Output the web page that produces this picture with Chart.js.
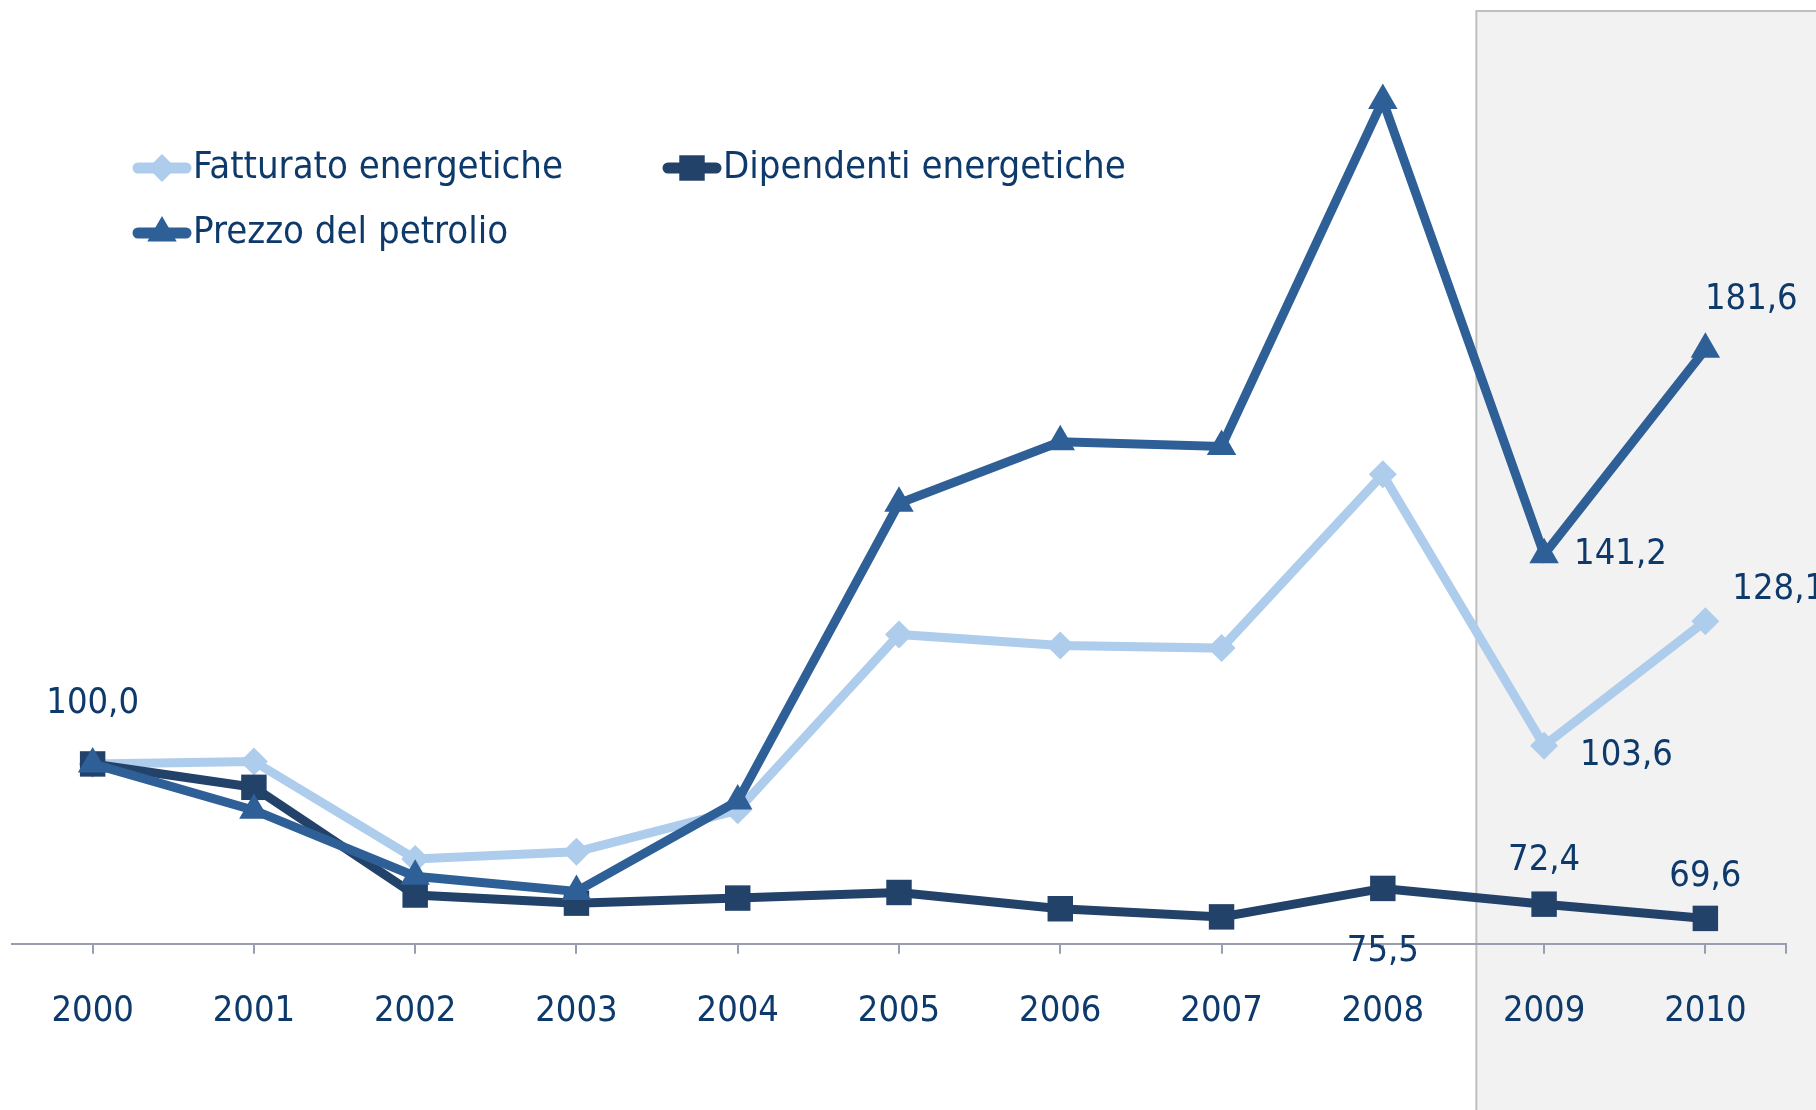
<!DOCTYPE html>
<html><head><meta charset="utf-8">
<script src="https://cdn.jsdelivr.net/npm/chart.js@4.4.0/dist/chart.umd.min.js"></script>
<style>html,body{margin:0;padding:0;background:#fff}#wrap{width:1816px;height:1110px;position:relative}</style>
</head><body><div id="wrap"><canvas id="c" width="1816" height="1110"></canvas></div>
<script>
// ---- data ----
const years = ['2000','2001','2002','2003','2004','2005','2006','2007','2008','2009','2010'];
const seriesNames = ['Fatturato energetiche','Dipendenti energetiche','Prezzo del petrolio'];
const fatturato = [100.0, 100.5, 81.3, 82.7, 90.9, 125.5, 123.3, 122.8, 157.0, 103.6, 128.1];
const dipendenti = [100.0, 95.4, 74.2, 72.6, 73.6, 74.7, 71.5, 69.9, 75.5, 72.4, 69.6];
const prezzo = [100.0, 90.9, 77.9, 74.9, 92.7, 151.3, 163.4, 162.5, 230.6, 141.2, 181.6];
// which points carry a value label: [datasetIndex, pointIndex]
const labelledPoints = [[2,0],[0,9],[0,10],[1,8],[1,9],[1,10],[2,9],[2,10]];

// ---- styles ----
const TEXT = '#0E3A6B';
const FONT = 'DejaVu Sans Condensed';
const colors = ['#AECDEC', '#22426A', '#2E5F96'];
const labelPlacement = {
  '2,0': {dx:0, dy:-60, align:'center'},
  '0,9': {dx:36, dy:10, align:'left'},
  '0,10': {dx:27, dy:-32, align:'left'},
  '1,8': {dx:0, dy:63, align:'center'},
  '1,9': {dx:0, dy:-44, align:'center'},
  '1,10': {dx:0, dy:-42, align:'center'},
  '2,9': {dx:30, dy:0, align:'left'},
  '2,10': {dx:46, dy:-50, align:'center'}
};
const fmt = v => v.toFixed(1).replace('.', ',');

const shadePlugin = {
  id: 'shade',
  beforeDraw(chart) {
    const {ctx, chartArea} = chart;
    const xs = chart.scales.x;
    const x0 = xs.getPixelForValue(8) + 0.58 * (xs.getPixelForValue(9) - xs.getPixelForValue(8));
    const y0 = chartArea.top;
    ctx.save();
    ctx.fillStyle = '#F2F2F2';
    ctx.fillRect(x0, y0, chart.width - x0, chart.height - y0);
    ctx.strokeStyle = '#BFBFBF';
    ctx.lineWidth = 2;
    ctx.beginPath();
    ctx.moveTo(x0, chart.height);
    ctx.lineTo(x0, y0);
    ctx.lineTo(chart.width, y0);
    ctx.stroke();
    ctx.restore();
  },
  afterDraw(chart) {
    const {ctx, chartArea} = chart;
    ctx.save();
    ctx.strokeStyle = '#9A9DAF';
    ctx.lineWidth = 2;
    ctx.beginPath();
    ctx.moveTo(chartArea.right, chartArea.bottom);
    ctx.lineTo(chartArea.right, chartArea.bottom + 10);
    ctx.stroke();
    ctx.restore();
  }
};

const valueLabelPlugin = {
  id: 'valueLabels',
  afterDatasetsDraw(chart) {
    const ctx = chart.ctx;
    ctx.save();
    ctx.font = '36px "' + FONT + '"';
    ctx.fillStyle = TEXT;
    ctx.textBaseline = 'middle';
    labelledPoints.forEach(([d, i]) => {
      const pt = chart.getDatasetMeta(d).data[i];
      const p = labelPlacement[d + ',' + i];
      const v = chart.data.datasets[d].data[i];
      ctx.textAlign = p.align;
      ctx.fillText(fmt(v), pt.x + p.dx, pt.y + p.dy);
    });
    ctx.restore();
  }
};

const legendPos = [[133,168],[663,168],[133,233]];
const customLegend = {
  id: 'customLegend',
  afterDraw(chart) {
    const ctx = chart.ctx;
    ctx.save();
    chart.data.datasets.forEach((ds, k) => {
      const [x, y] = legendPos[k];
      ctx.strokeStyle = ds.borderColor;
      ctx.lineWidth = 11;
      ctx.lineCap = 'round';
      ctx.beginPath();
      ctx.moveTo(x + 5, y);
      ctx.lineTo(x + 53, y);
      ctx.stroke();
      ctx.fillStyle = ds.pointBackgroundColor;
      ctx.strokeStyle = ds.pointBackgroundColor;
      Chart.helpers.drawPoint(ctx, {pointStyle: ds.pointStyle, radius: ds.pointRadius, rotation: 0, borderWidth: 0}, x + 29, y);
      ctx.fillStyle = TEXT;
      ctx.font = '38px "' + FONT + '"';
      ctx.textBaseline = 'middle';
      ctx.textAlign = 'left';
      ctx.fillText(ds.label, x + 60, y);
    });
    ctx.restore();
  }
};

function makeDs(label, data, color, style, radius, order) {
  return {
    label, data,
    borderColor: color, backgroundColor: color,
    pointBackgroundColor: color, pointBorderColor: color,
    pointStyle: style, pointRadius: radius, pointBorderWidth: 0,
    borderWidth: 9, tension: 0, order, clip: false
  };
}

new Chart(document.getElementById('c'), {
  type: 'line',
  data: {
    labels: years,
    datasets: [
      makeDs(seriesNames[0], fatturato, colors[0], 'rectRot', 14, 3),
      makeDs(seriesNames[1], dipendenti, colors[1], 'rect', 18, 2),
      makeDs(seriesNames[2], prezzo, colors[2], 'triangle', 17, 1)
    ]
  },
  options: {
    responsive: false,
    animation: false,
    devicePixelRatio: 1,
    layout: {autoPadding: false, padding: {left: 12, right: 30, top: 11, bottom: 41}},
    plugins: {legend: {display: false}, tooltip: {enabled: false}},
    scales: {
      x: {
        offset: true,
        afterFit(scale) { scale.paddingLeft = 0; scale.paddingRight = 0; },
        grid: {display: true, drawOnChartArea: false, drawTicks: true, tickLength: 10, color: '#9A9DAF', lineWidth: 2, offset: false},
        border: {display: true, color: '#9A9DAF', width: 2},
        ticks: {color: TEXT, font: {family: FONT, size: 36}, padding: 36, maxRotation: 0}
      },
      y: {display: false, min: 64.6, max: 248.2, ticks: {display: false}}
    }
  },
  plugins: [shadePlugin, valueLabelPlugin, customLegend]
});
</script>
</body></html>
